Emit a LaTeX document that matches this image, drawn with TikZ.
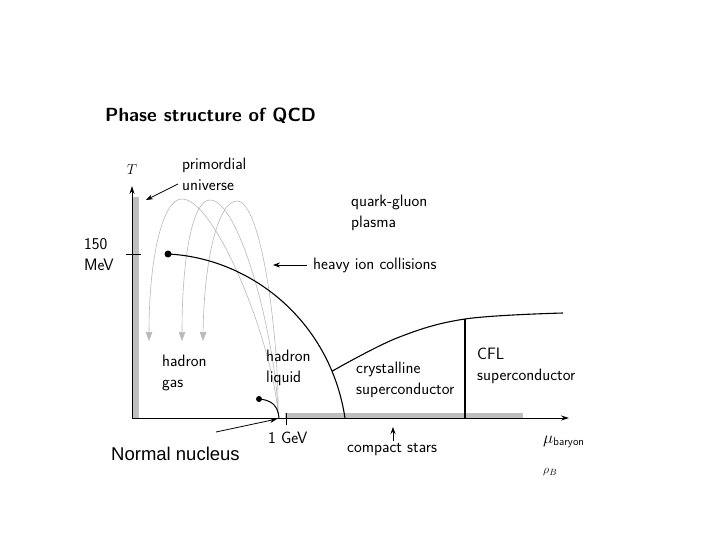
\documentclass[tikz,border=0pt]{standalone}
\usepackage{fontspec}
\newfontfamily\arialfont{Liberation Sans}
\usetikzlibrary{arrows.meta}
\begin{document}
\begin{tikzpicture}[x=1pt,y=-1pt,
  lbl/.style={font=\sffamily\fontsize{16.5}{21}\selectfont, inner sep=0pt, anchor=west, align=left},
  traj/.style={draw=gray!55, line width=0.6pt, -{Triangle[length=9pt,width=6.5pt,fill=gray!55]}},
  bound/.style={line width=1.1pt},
  pointer/.style={line width=0.8pt, -{Stealth[length=7pt,width=5pt]}},
  axisline/.style={line width=0.9pt, -{Stealth[length=8pt,width=5pt]}},
  bar/.style={fill=gray!50, draw=none}]
\useasboundingbox (0,0) rectangle (720,540);

% title
\node[lbl, font=\sffamily\bfseries\fontsize{19}{22}\selectfont] (title) at (105,116) {Phase structure of QCD};

% gray bars
\fill[bar] (133,197) rectangle (139,418);
\fill[bar] (285,413) rectangle (523,418);

% trajectories (primordial universe / heavy ion)
\coordinate (nuc) at (278,413);
\draw[traj] (nuc) .. controls (272,340) and (215,199) .. (182,199) .. controls (162,199) and (149,260) .. (149,341);
\draw[traj] (nuc) .. controls (276,340) and (240,200) .. (210,200) .. controls (192,200) and (182,260) .. (182,341);
\draw[traj] (nuc) .. controls (279,340) and (262,201) .. (237,201) .. controls (218,201) and (204,260) .. (203,341);

% axes
\coordinate (O) at (132,418);
\coordinate (Ttip) at (132,186);
\coordinate (Mtip) at (569,418);
\draw[axisline] (O) -- (Ttip);
\draw[axisline] (O) -- (Mtip);

% ticks
\coordinate (t150a) at (126,254);
\coordinate (t150b) at (141,254);
\draw[line width=0.6pt] (t150a) -- (t150b);
\coordinate (t1a) at (286,413);
\coordinate (t1b) at (286,425);
\draw[line width=0.8pt] (t1a) -- (t1b);

% phase boundaries
\coordinate (cep) at (168,254);
\coordinate (cfltop) at (465,319);
\coordinate (cflbot) at (465,418);
\draw[bound] (cep) .. controls (250,258) and (330,320) .. coordinate[pos=0.83] (branch) (345,418);
\draw[bound] plot[smooth, tension=0.6] coordinates {(branch) (397,338) (465,319) (563,313)};
\draw[bound] (cfltop) -- (cflbot);
\fill (cep) circle (3.5);
\coordinate (liq) at (259,399);
\draw[line width=1pt] (liq) .. controls (272,400) and (278,406) .. (279,418);
\fill (liq) circle (3);

% labels
\node[font=\fontsize{14}{16}\selectfont, inner sep=0pt] (T) at (132,170) {$T$};
\node[lbl] (mev) at (84,255) {150\\MeV};
\node[lbl] (pu) at (182,174) {primordial\\universe};
\node[lbl] (qgp) at (351,213) {quark-gluon\\plasma};
\node[lbl] (hic) at (313,265) {heavy ion collisions};
\node[lbl] (hg) at (162,373) {hadron\\gas};
\node[lbl] (hl) at (266,368) {hadron\\liquid};
\node[lbl] (cryst) at (356,380) {crystalline\\superconductor};
\node[lbl] (cfl) at (477,366) {CFL\\superconductor};
\node[lbl] (gev) at (268,438) {1 GeV};
\node[lbl] (stars) at (347,450) {compact stars};
\node[lbl, font=\arialfont\fontsize{18.5}{22}\selectfont] (nn) at (111,454) {Normal nucleus};
\node[lbl, font=\fontsize{16}{18}\selectfont] (mu) at (543,442) {$\mu_{\mathsf{baryon}}$};
\node[lbl, font=\fontsize{13}{16}\selectfont] (rho) at (543,472) {$\rho_B$};

% pointers
\coordinate (puTail) at (178,184);
\coordinate (puTip) at (146,200);
\draw[pointer] (puTail) -- (puTip);
\coordinate (hicTip) at (273,265);
\draw[pointer] ([xshift=-6pt]hic.west) -- (hicTip);
\coordinate (starTail) at (393,441);
\coordinate (starTip) at (393,427);
\draw[pointer] (starTail) -- (starTip);
\coordinate (nnTail) at (216,432);
\coordinate (nnTip) at (277,419);
\draw[pointer] (nnTail) -- (nnTip);
\end{tikzpicture}
\end{document}
